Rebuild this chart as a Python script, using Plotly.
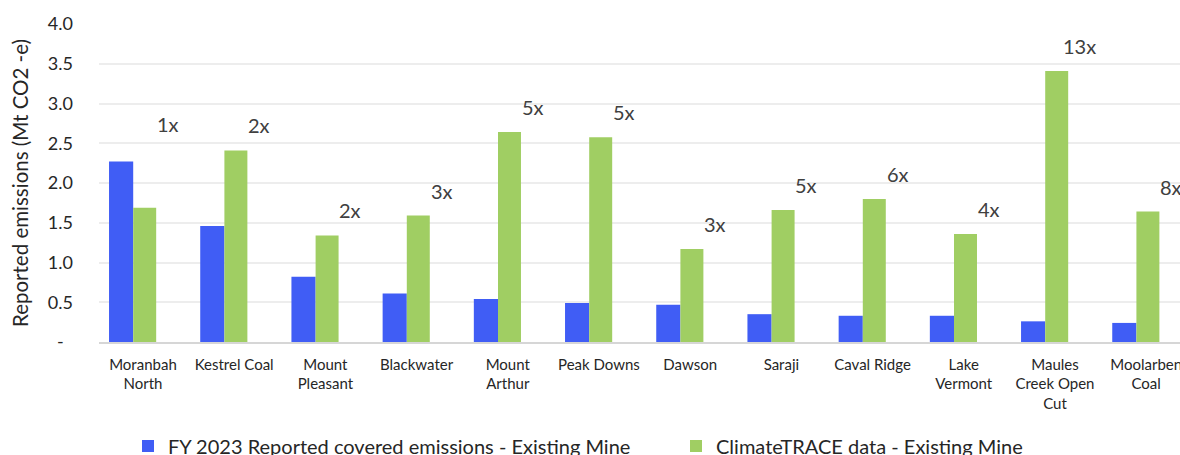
import plotly.graph_objects as go

# Mine names (tick labels) and emissions in Mt CO2-e
mines = [
    "Moranbah<br>North", "Kestrel Coal", "Mount<br>Pleasant", "Blackwater",
    "Mount<br>Arthur", "Peak Downs", "Dawson", "Saraji", "Caval Ridge",
    "Lake<br>Vermont", "Maules<br>Creek Open<br>Cut", "Moolarben<br>Coal",
]
reported_fy2023 = [2.27, 1.46, 0.82, 0.61, 0.54, 0.49, 0.47, 0.35, 0.33, 0.33, 0.26, 0.24]
climatetrace = [1.69, 2.41, 1.34, 1.59, 2.64, 2.575, 1.17, 1.66, 1.80, 1.36, 3.41, 1.64]
multiples = ["1x", "2x", "2x", "3x", "5x", "5x", "3x", "5x", "6x", "4x", "13x", "8x"]

y_tickvals = [0, 0.5, 1.0, 1.5, 2.0, 2.5, 3.0, 3.5, 4.0]
y_ticktext = ["-\u00a0\u00a0", "0.5", "1.0", "1.5", "2.0", "2.5", "3.0", "3.5", "4.0"]

BLUE = "#405DF5"
GREEN = "#A0CE63"
FONT = "Lato"
TEXT = "#404040"
DARK = "#262626"

xpos = list(range(len(mines)))

fig = go.Figure()
fig.add_trace(go.Bar(
    x=xpos, y=reported_fy2023, name="FY 2023 Reported covered emissions - Existing Mine",
    marker=dict(color=BLUE, line=dict(width=0)), offset=-0.372, width=0.265,
    legend="legend",
))
fig.add_trace(go.Bar(
    x=xpos, y=climatetrace, name="ClimateTRACE data - Existing Mine",
    marker=dict(color=GREEN, line=dict(width=0)), offset=-0.107, width=0.252,
    legend="legend2",
))

# Ratio labels sit above the taller bar of each pair, offset to the right
for i, (r, c, m) in enumerate(zip(reported_fy2023, climatetrace, multiples)):
    top = max(r, c)
    fig.add_annotation(
        x=i, y=top, text=m, showarrow=False, xanchor="center", yanchor="middle",
        xshift=25, yshift=38 if r > c else 25,
        font=dict(family=FONT, size=20, color=TEXT),
    )

legend_style = dict(
    orientation="h", xref="container", yref="container",
    xanchor="left", y=1 - 446 / 455, yanchor="middle",
    font=dict(family=FONT, size=20, color=DARK),
    bgcolor="rgba(0,0,0,0)",
)

fig.update_layout(
    width=1180, height=455,
    margin=dict(l=99, r=0, t=24, b=113, autoexpand=False),
    paper_bgcolor="white", plot_bgcolor="white",
    font=dict(family=FONT, color=TEXT),
    showlegend=True,
    legend=dict(legend_style, x=128 / 1180),
    legend2=dict(legend_style, x=676 / 1180),
    xaxis=dict(
        range=[-0.482, 11.371], tickvals=xpos, ticktext=mines,
        showgrid=False, zeroline=False, automargin=False,
        showline=True, linecolor="#D6D6D6", linewidth=1.5,
        ticks="", ticklabelstandoff=8,
        tickfont=dict(family=FONT, size=15, color=DARK),
        tickangle=0, ticklabeloverflow="allow",
    ),
    yaxis=dict(
        range=[0, 4.0], tickvals=y_tickvals, ticktext=y_ticktext,
        showgrid=True, gridcolor="#EDEDED", gridwidth=1.5,
        zeroline=False, showline=False, automargin=False,
        ticks="", ticklabelstandoff=25,
        tickfont=dict(family=FONT, size=18, color=DARK),
        title=dict(text="Reported emissions (Mt CO2 -e)",
                   font=dict(family=FONT, size=20.5, color=DARK), standoff=13),
    ),
)

fig.write_html("out.html")
